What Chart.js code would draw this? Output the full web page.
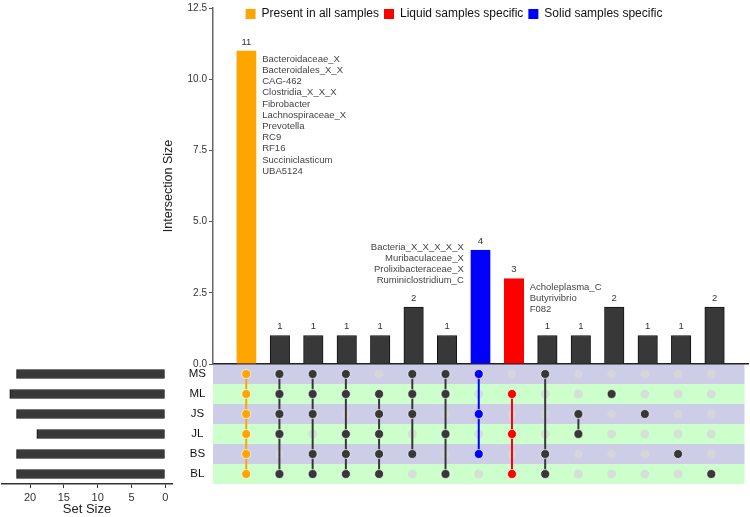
<!DOCTYPE html>
<html>
<head>
<meta charset="utf-8">
<title>UpSet plot</title>
<script src="https://cdn.jsdelivr.net/npm/chart.js@4.4.1/dist/chart.umd.min.js"></script>
<style>
  html, body { margin: 0; padding: 0; background: #fff; }
  #wrap { position: relative; width: 750px; height: 517px; }
  #wrap canvas { position: absolute; left: 0; top: 0; }
</style>
</head>
<body>
<div id="wrap">
  <canvas id="matrix" width="750" height="517"></canvas>
  <canvas id="sets" width="750" height="517"></canvas>
  <canvas id="bars" width="750" height="517"></canvas>
  <canvas id="legend" width="750" height="517"></canvas>
</div>
<script>
// ---- data ----
const setNames = ["MS", "ML", "JS", "JL", "BS", "BL"];
const setSizes = [22, 23, 22, 19, 22, 22];
const setSizeTicks = [0, 5, 10, 15, 20];

const intersectionSizes = [11, 1, 1, 1, 1, 2, 1, 4, 3, 1, 1, 2, 1, 1, 2];
const intersectionTicks = [0, 2.5, 5, 7.5, 10, 12.5];
const intersectionSets = [
  ["MS", "ML", "JS", "JL", "BS", "BL"],
  ["MS", "ML", "JS", "JL", "BL"],
  ["MS", "ML", "JS", "BS", "BL"],
  ["MS", "ML", "JL", "BS", "BL"],
  ["ML", "JS", "JL", "BS", "BL"],
  ["MS", "ML", "JS", "BS"],
  ["MS", "ML", "JL", "BL"],
  ["MS", "JS", "BS"],
  ["ML", "JL", "BL"],
  ["MS", "BS", "BL"],
  ["JS", "JL"],
  ["ML"],
  ["JS"],
  ["BS"],
  ["BL"]
];
// which group each intersection belongs to (for colouring)
const intersectionGroup = ["all", "", "", "", "", "", "", "solid", "liquid", "", "", "", "", "", ""];

const legendLabels = ["Present in all samples", "Liquid samples specific", "Solid samples specific"];
const legendGroups = ["all", "liquid", "solid"];

const sharedGenera = ["Bacteroidaceae_X", "Bacteroidales_X_X", "CAG-462", "Clostridia_X_X_X",
  "Fibrobacter", "Lachnospiraceae_X", "Prevotella", "RC9", "RF16", "Succiniclasticum", "UBA5124"];
const solidGenera = ["Bacteria_X_X_X_X_X", "Muribaculaceae_X", "Prolixibacteraceae_X", "Ruminiclostridium_C"];
const liquidGenera = ["Acholeplasma_C", "Butyrivibrio", "F082"];

// ---- styles ----
const FONT = '"Liberation Sans", Arial, Helvetica, sans-serif';
Chart.defaults.font.family = FONT;
Chart.defaults.color = "#333";

const groupColors = { all: "#FFA500", liquid: "#FF0000", solid: "#0000FF", "": "#383838" };
const colorOf = i => groupColors[intersectionGroup[i]];

// genus lists written next to the coloured bars
const genusNotes = [
  { column: intersectionGroup.indexOf("all"), names: sharedGenera, side: "right" },
  { column: intersectionGroup.indexOf("solid"), names: solidGenera, side: "left" },
  { column: intersectionGroup.indexOf("liquid"), names: liquidGenera, side: "right" }
];

const barLabels = {
  id: "barLabels",
  afterDatasetsDraw(chart) {
    const { ctx } = chart;
    const meta = chart.getDatasetMeta(0);
    ctx.save();
    ctx.fillStyle = "#333";
    ctx.font = "9.5px " + FONT;
    ctx.textAlign = "center";
    ctx.textBaseline = "bottom";
    meta.data.forEach((bar, i) => {
      ctx.fillText(String(intersectionSizes[i]), bar.x, bar.y - 4);
    });

    ctx.fillStyle = "#444";
    ctx.textBaseline = "middle";
    genusNotes.forEach(note => {
      const bar = meta.data[note.column];
      const half = bar.width / 2;
      let x, y;
      if (note.side === "right") {
        ctx.textAlign = "left";
        x = bar.x + half + 6;
        y = bar.y + 8.5;
      } else {
        ctx.textAlign = "right";
        x = bar.x - half - 7;
        y = bar.y - 3;
      }
      note.names.forEach((name, k) => ctx.fillText(name, x, y + k * 11.2));
    });
    ctx.restore();
  }
};

const rowBands = {
  id: "rowBands",
  beforeDatasetsDraw(chart) {
    const { ctx, chartArea, scales } = chart;
    const y = scales.y;
    ctx.save();
    setNames.forEach((_, i) => {
      const a = y.getPixelForValue(i - 0.5);
      const b = y.getPixelForValue(i + 0.5);
      ctx.fillStyle = i % 2 ? "#ccffcc" : "#cdcde8";
      ctx.fillRect(chartArea.left, Math.min(a, b), chartArea.right - chartArea.left, Math.abs(b - a));
    });
    ctx.restore();
  }
};

// ---- intersection size bars ----
new Chart(document.getElementById("bars"), {
  type: "bar",
  data: {
    datasets: [{
      data: intersectionSizes.map((v, i) => ({ x: i, y: v })),
      backgroundColor: intersectionSizes.map((_, i) => colorOf(i)),
      borderColor: intersectionSizes.map((_, i) => intersectionGroup[i] ? colorOf(i) : "#111"),
      borderWidth: 1,
      borderSkipped: "bottom",
      barThickness: 19.5
    }]
  },
  options: {
    responsive: false,
    animation: false,
    layout: { padding: { left: 157, top: 7, right: 2, bottom: 153 } },
    plugins: { legend: { display: false }, tooltip: { enabled: false } },
    scales: {
      x: {
        type: "linear",
        min: -1,
        max: 15,
        offset: false,
        ticks: { display: false },
        grid: { display: false },
        border: { color: "#222", width: 1.5 },
        afterFit(s) { s.height = 0; }
      },
      y: {
        min: 0,
        max: 12.5,
        afterBuildTicks(s) { s.ticks = intersectionTicks.map(v => ({ value: v })); },
        ticks: { callback: v => v.toFixed(1), color: "#333", font: { size: 10 }, padding: 2 },
        grid: { drawOnChartArea: false, tickLength: 4, color: "#555", lineWidth: 1 },
        border: { color: "#666", width: 1.5 },
        title: { display: true, text: "Intersection Size", color: "#222", font: { size: 12.5 }, padding: 4 },
        afterFit(s) { s.width = 56; }
      }
    }
  },
  plugins: [barLabels]
});

// ---- matrix of dots ----
const emptyDots = [];
intersectionSets.forEach((sets, i) => {
  setNames.forEach((name, r) => {
    if (!sets.includes(name)) emptyDots.push({ x: i, y: r });
  });
});

const columnLines = intersectionSets.map((sets, i) => ({
  data: setNames.map((name, r) => sets.includes(name) ? { x: i, y: r } : null).filter(Boolean),
  showLine: true,
  borderColor: colorOf(i),
  borderWidth: 2,
  pointRadius: 4.5,
  pointBackgroundColor: colorOf(i),
  pointBorderColor: "rgba(255,255,255,0.7)",
  pointBorderWidth: 1,
  order: 0
}));

new Chart(document.getElementById("matrix"), {
  type: "scatter",
  data: {
    datasets: columnLines.concat([{
      data: emptyDots,
      pointRadius: 4.5,
      pointBackgroundColor: "rgba(215,215,215,0.75)",
      pointBorderWidth: 0,
      order: 1
    }])
  },
  options: {
    responsive: false,
    animation: false,
    layout: { padding: { left: 183, top: 364, right: 2, bottom: 33 } },
    plugins: { legend: { display: false }, tooltip: { enabled: false } },
    scales: {
      x: { type: "linear", min: -1, max: 15, display: false },
      y: {
        type: "linear",
        min: -0.5,
        max: 5.5,
        reverse: true,
        afterBuildTicks(s) { s.ticks = setNames.map((_, i) => ({ value: i })); },
        ticks: { callback: v => setNames[v], color: "#111", font: { size: 11.5 }, crossAlign: "center", padding: 7 },
        grid: { display: false, drawTicks: false },
        border: { display: false },
        afterFit(s) { s.width = 30; }
      }
    }
  },
  plugins: [rowBands]
});

// ---- set size bars ----
new Chart(document.getElementById("sets"), {
  type: "bar",
  data: {
    labels: setNames,
    datasets: [{
      data: setSizes,
      backgroundColor: "#383838",
      borderColor: "#111",
      borderWidth: 1,
      barThickness: 9
    }]
  },
  options: {
    indexAxis: "y",
    responsive: false,
    animation: false,
    layout: { padding: { left: 2, top: 364, right: 578, bottom: 0 } },
    plugins: { legend: { display: false }, tooltip: { enabled: false } },
    scales: {
      x: {
        type: "linear",
        reverse: true,
        min: -1,
        max: 24.15,
        afterBuildTicks(s) { s.ticks = setSizeTicks.map(v => ({ value: v })); },
        ticks: { color: "#333", font: { size: 11 }, padding: 3, maxRotation: 0 },
        grid: { drawOnChartArea: false, tickLength: 4, color: "#333" },
        border: { color: "#333", width: 1.5 },
        title: { display: true, text: "Set Size", color: "#222", font: { size: 13 }, padding: 0 },
        afterFit(s) { s.height = 33; }
      },
      y: { display: false }
    }
  }
});

// ---- legend ----
new Chart(document.getElementById("legend"), {
  type: "bar",
  data: {
    labels: [],
    datasets: legendLabels.map((label, i) => ({
      label: label,
      data: [],
      backgroundColor: groupColors[legendGroups[i]],
      borderWidth: 0
    }))
  },
  options: {
    responsive: false,
    animation: false,
    layout: { padding: { left: 160, top: 3, right: 2, bottom: 0 } },
    plugins: {
      tooltip: { enabled: false },
      legend: {
        position: "top",
        labels: { boxWidth: 10, boxHeight: 10, padding: 5, color: "#111", font: { size: 12 } }
      }
    },
    scales: { x: { display: false }, y: { display: false } }
  }
});
</script>
</body>
</html>
